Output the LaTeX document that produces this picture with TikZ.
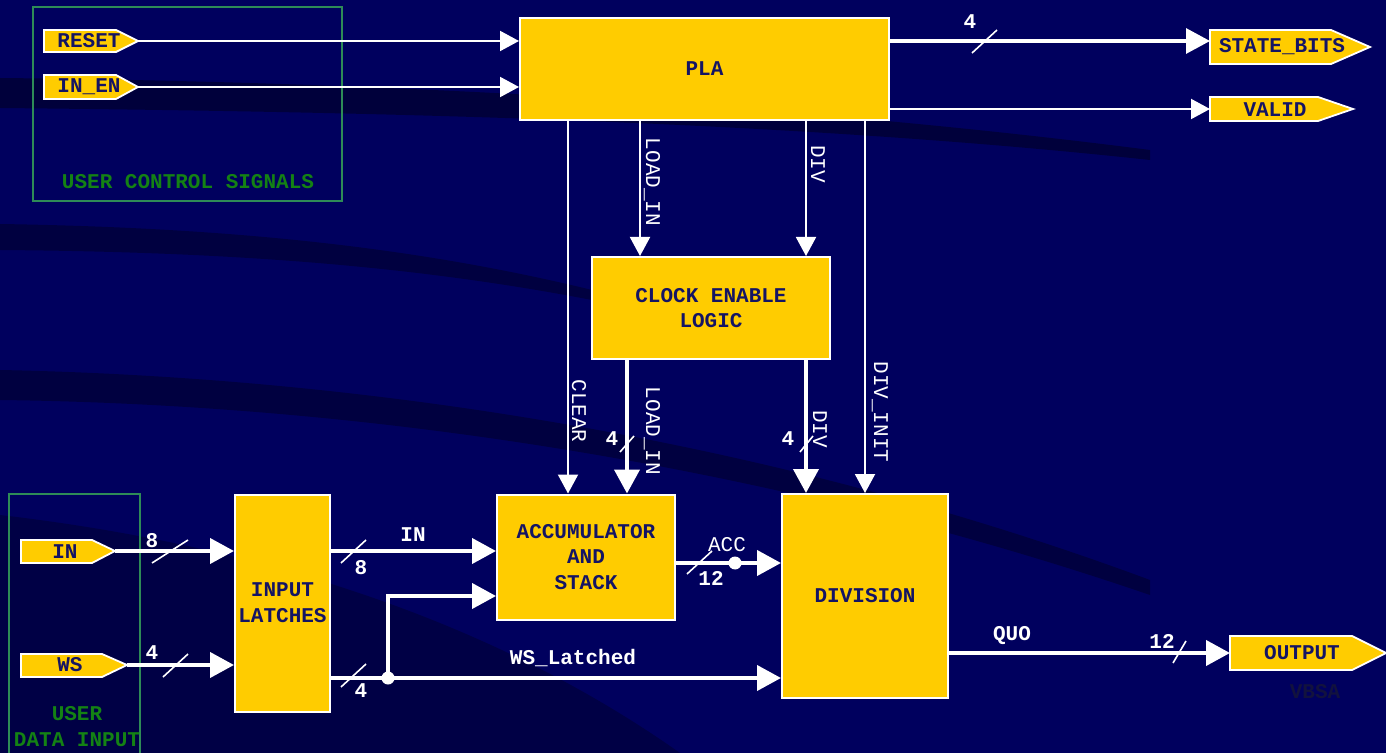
\documentclass[tikz,border=0pt]{standalone}
\usepackage{fontspec}
\setmonofont{Liberation Mono}
\usetikzlibrary{arrows.meta}
\definecolor{bg}{RGB}{0,0,94}
\definecolor{bgdark}{RGB}{0,0,45}
\definecolor{gold}{RGB}{255,204,0}
\definecolor{navy}{RGB}{20,20,100}
\definecolor{grn}{RGB}{46,139,87}
\definecolor{grntext}{RGB}{20,130,20}
\definecolor{faint}{RGB}{18,18,62}
\begin{document}
\begin{tikzpicture}[x=0.5pt,y=-0.5pt,
 box/.style={draw=white,line width=1pt,fill=gold,font=\ttfamily\bfseries\fontsize{10.5}{12.9}\selectfont,text=navy,align=center,inner sep=0pt},
 flagshape/.style={draw=white,line width=0.9pt,fill=gold},
 flagtext/.style={font=\ttfamily\bfseries\fontsize{10.5}{13}\selectfont,text=navy,inner sep=0pt},
 wire/.style={draw=white,line width=1pt,-{Triangle[length=9.5pt,width=10pt]}},
 bus/.style={draw=white,line width=2pt,-{Triangle[length=12pt,width=12.5pt]}},
 lbl/.style={text=white,font=\ttfamily\fontsize{10.5}{13}\selectfont,inner sep=0pt},
 blbl/.style={text=white,font=\ttfamily\bfseries\fontsize{10.5}{13}\selectfont,inner sep=0pt},
 slash/.style={draw=white,line width=0.8pt},
 grpbox/.style={draw=grn,line width=1pt},
 grptext/.style={text=grntext,font=\ttfamily\bfseries\fontsize{10.5}{13}\selectfont,align=center,inner sep=0pt},
 dot/.style={circle,fill=white,inner sep=0pt,minimum size=6.5pt}
]
\useasboundingbox (0,0) rectangle (1386,753);
% background
\fill[bg] (0,0) rectangle (1386,753);
\fill[bgdark,opacity=0.7] (0,78) .. controls (400,82) and (800,105) .. (1150,150) -- (1150,160) .. controls (800,122) and (400,112) .. (0,108) -- cycle;
\fill[bgdark,opacity=0.6] (0,224) .. controls (250,228) and (450,250) .. (650,305) -- (650,312) .. controls (450,268) and (250,252) .. (0,250) -- cycle;
\fill[bgdark,opacity=0.6] (0,370) .. controls (400,378) and (800,450) .. (1150,580) -- (1150,595) .. controls (800,475) and (400,405) .. (0,400) -- cycle;
\fill[bgdark,opacity=0.5] (0,515) .. controls (300,550) and (520,640) .. (680,753) -- (0,753) -- cycle;

% group boxes
\draw[grpbox] (33,7) rectangle (342,201);
\node[grptext] (ucs) at (188,182) {USER CONTROL SIGNALS};
\draw[grpbox] (9,770) -- (9,494) -- (140,494) -- (140,770);
\node[grptext] (udi) at (77,727) {USER\\DATA INPUT};

% blocks
\node[box,minimum width=184.5pt,minimum height=51pt] (pla) at (704.5,69) {PLA};
\node[box,minimum width=119pt,minimum height=51pt] (cel) at (711,308) {CLOCK ENABLE\\LOGIC};
\node[box,minimum width=89pt,minimum height=62.5pt] (acc) at (586,557) {ACCUMULATOR\\AND\\STACK};
\node[box,minimum width=83pt,minimum height=102pt] (div) at (865,596) {DIVISION};
\node[box,minimum width=47.5pt,minimum height=108.5pt] (lat) at (282.5,603) {INPUT\\LATCHES};

% flags
\fill[flagshape] (44,30) -- (116,30) -- (138,41) -- (116,52) -- (44,52) -- cycle;
\node[flagtext] (reset) at (89,41) {RESET};
\coordinate (resetTip) at (138,41);
\fill[flagshape] (44,75) -- (116,75) -- (138,87) -- (116,99) -- (44,99) -- cycle;
\node[flagtext] (inen) at (89,87) {IN\_EN};
\coordinate (inenTip) at (138,87);
\fill[flagshape] (1210,30) -- (1331,30) -- (1370,47) -- (1331,64) -- (1210,64) -- cycle;
\node[flagtext] (stb) at (1282,47) {STATE\_BITS};
\coordinate (sbIn) at (1210,41);
\fill[flagshape] (1210,97) -- (1318,97) -- (1353,109) -- (1318,121) -- (1210,121) -- cycle;
\node[flagtext] (valid) at (1275,110) {VALID};
\coordinate (vaIn) at (1210,109);
\fill[flagshape] (21,540) -- (92,540) -- (115,551) -- (92,563) -- (21,563) -- cycle;
\node[flagtext] (inflag) at (65,552) {IN};
\coordinate (inTip) at (115,551);
\fill[flagshape] (21,654) -- (102,654) -- (127,665) -- (102,677) -- (21,677) -- cycle;
\node[flagtext] (wsflag) at (70,665) {WS};
\coordinate (wsTip) at (127,665);
\fill[flagshape] (1230,636) -- (1352,636) -- (1386,653) -- (1352,670) -- (1230,670) -- cycle;
\node[flagtext] (outflag) at (1302,653) {OUTPUT};
\coordinate (outIn) at (1230,653);
\node[flagtext,text=faint] (vbsa) at (1315,692) {VBSA};

% control inputs
\draw[wire] (resetTip) -- (resetTip -| pla.west);
\draw[wire] (inenTip) -- (inenTip -| pla.west);

% PLA outputs
\draw[bus,line width=1.6pt] (sbIn -| pla.east) -- (sbIn);
\draw[slash] (972,53) -- (997,30);
\node[blbl] (n4a) at (970,22) {4};
\draw[wire] (vaIn -| pla.east) -- (vaIn);

% verticals
\coordinate (xclr) at (568,0);
\coordinate (xld) at (640,0);
\coordinate (xdv) at (806,0);
\coordinate (xdi) at (865,0);
\coordinate (xld2) at (627,0);
\draw[wire] (pla.south -| xclr) -- (acc.north -| xclr);
\draw[wire] (pla.south -| xld) -- (cel.north -| xld);
\draw[wire] (pla.south -| xdv) -- (cel.north -| xdv);
\draw[wire] (pla.south -| xdi) -- (div.north -| xdi);
\draw[bus] (cel.south -| xld2) -- (acc.north -| xld2);
\draw[bus] (cel.south -| xdv) -- (div.north -| xdv);
\node[lbl,rotate=-90] (l1) at (652,182) {LOAD\_IN};
\node[lbl,rotate=-90] (l2) at (818,164) {DIV};
\node[lbl,rotate=-90] (l3) at (579,411) {CLEAR};
\node[lbl,rotate=-90] (l4) at (652,431) {LOAD\_IN};
\node[lbl,rotate=-90] (l5) at (820,429) {DIV};
\node[lbl,rotate=-90] (l6) at (880,412) {DIV\_INIT};
\draw[slash] (620,452) -- (634,436);
\node[blbl] (n4b) at (612,439) {4};
\draw[slash] (800,452) -- (813,436);
\node[blbl] (n4c) at (788,439) {4};

% data inputs
\draw[bus] (inTip) -- (inTip -| lat.west);
\draw[slash] (152,563) -- (188,540);
\node[blbl] (n8a) at (152,541) {8};
\draw[bus] (wsTip) -- (wsTip -| lat.west);
\draw[slash] (163,677) -- (188,654);
\node[blbl] (n4d) at (152,653) {4};

% latch outputs
\coordinate (yin) at (0,551);
\draw[bus] (lat.east |- yin) -- (acc.west |- yin);
\draw[slash] (341,563) -- (366,540);
\node[blbl] (n8b) at (361,568) {8};
\node[blbl] (lin) at (413,535) {IN};
\coordinate (yws) at (0,678);
\draw[bus] (lat.east |- yws) -- (div.west |- yws);
\draw[slash] (341,687) -- (366,664);
\node[blbl] (n4e) at (361,691) {4};
\node[blbl] (lws) at (573,658) {WS\_Latched};
\node[dot] (j1) at (388,678) {};
\coordinate (ystk) at (0,596);
\draw[bus] (j1.center) |- (acc.west |- ystk);

% accumulator output
\coordinate (yacc) at (0,563);
\draw[bus] (acc.east |- yacc) -- (div.west |- yacc);
\node[dot] (j2) at (735,563) {};
\draw[slash] (687,574) -- (712,551);
\node[lbl] (lacc) at (727,545) {ACC};
\node[blbl] (n12a) at (711,578) {12};

% division output
\draw[bus] (outIn -| div.east) -- (outIn);
\node[blbl] (lquo) at (1012,636) {QUO};
\node[blbl] (n12b) at (1162,641) {12};
\draw[slash] (1173,663) -- (1186,641);
\end{tikzpicture}
\end{document}
